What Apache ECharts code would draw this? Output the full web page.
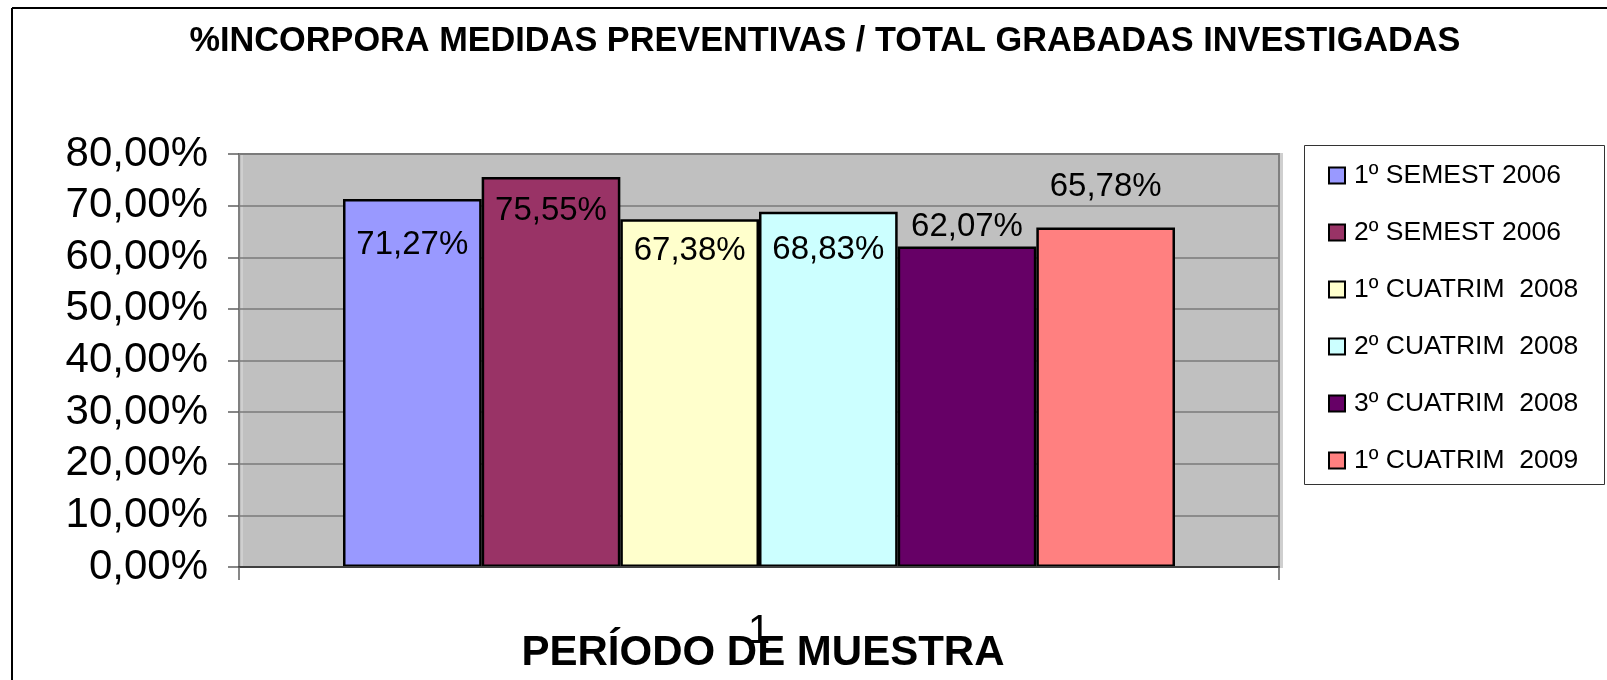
<!DOCTYPE html>
<html>
<head>
<meta charset="utf-8">
<script src="https://cdn.jsdelivr.net/npm/echarts@6/dist/echarts.min.js"></script>
<style>
  html, body { margin: 0; padding: 0; background: #fff; }
  #chart { width: 1607px; height: 680px; }
</style>
</head>
<body>
<div id="chart"></div>
<script>
// ---- data ----
const titleText = '%INCORPORA MEDIDAS PREVENTIVAS / TOTAL GRABADAS INVESTIGADAS';
const xAxisTitle = 'PERÍODO DE MUESTRA';
const categories = ['1'];
const seriesNames = ['1º SEMEST 2006', '2º SEMEST 2006', '1º CUATRIM  2008', '2º CUATRIM  2008', '3º CUATRIM  2008', '1º CUATRIM  2009'];
const values = [71.27, 75.55, 67.38, 68.83, 62.07, 65.78];
const yMin = 0, yMax = 80, yStep = 10;

// ---- style ----
const colors = ['#9999FF', '#993366', '#FFFFCC', '#CCFFFF', '#660066', '#FF8080'];
const labelOffsets = [[0, 67], [0, 55], [0, 53], [0, 60], [0, 2], [0, -19]];
const FONT = "'Liberation Sans', Arial, sans-serif";

const fmt = v => v.toFixed(2).replace('.', ',') + '%';

const series = seriesNames.map((name, i) => ({
  name: name,
  type: 'bar',
  barGap: '0%',
  barCategoryGap: '20%',
  data: [values[i]],
  itemStyle: { color: colors[i], borderColor: '#000', borderWidth: 2.5 },
  label: {
    show: true,
    position: 'top',
    offset: labelOffsets[i],
    formatter: p => fmt(p.value),
    color: '#000',
    fontFamily: FONT,
    fontSize: 33
  }
}));

const chart = echarts.init(document.getElementById('chart'), null, { renderer: 'canvas' });
chart.setOption({
  animation: false,
  backgroundColor: '#fff',
  title: {
    text: titleText,
    left: 820,
    textAlign: 'center',
    top: 20,
    textStyle: { fontFamily: FONT, fontSize: 34.3, fontWeight: 'bold', color: '#000' }
  },
  graphic: [
    { type: 'line', shape: { x1: 12, y1: 8, x2: 1607, y2: 8 }, style: { stroke: '#000', lineWidth: 2 }, z: 0 },
    { type: 'line', shape: { x1: 12, y1: 8, x2: 12, y2: 680 }, style: { stroke: '#000', lineWidth: 2 }, z: 0 },
    { type: 'rect', shape: { x: 1304.5, y: 145.5, width: 300, height: 339 }, style: { fill: '#fff', stroke: '#333', lineWidth: 1 }, z: 0 }
  ],
  legend: {
    orient: 'vertical',
    left: 1328,
    top: 162,
    padding: 0,
    itemWidth: 16,
    itemHeight: 16,
    itemGap: 30,
    icon: 'rect',
    z: 10,
    itemStyle: { borderColor: '#000', borderWidth: 2 },
    textStyle: { fontFamily: FONT, fontSize: 26.5, color: '#000', padding: [0, 0, 0, 4] },
    data: seriesNames
  },
  grid: {
    left: 239, top: 154, right: 328, bottom: 113,
    outerBoundsMode: 'none',
    containLabel: false,
    show: true,
    backgroundColor: '#C0C0C0',
    borderColor: '#808080',
    borderWidth: 2,
    shadowColor: '#cfcfcf',
    shadowOffsetX: 3,
    shadowOffsetY: 0,
    shadowBlur: 0
  },
  xAxis: {
    type: 'category',
    data: categories,
    name: xAxisTitle,
    nameLocation: 'middle',
    nameGap: 65,
    nameMoveOverlap: false,
    nameTextStyle: { fontFamily: FONT, fontSize: 42, fontWeight: 'bold', color: '#000', padding: [0, 0, 0, 8] },
    axisLine: { show: true, lineStyle: { color: '#404040', width: 2 } },
    axisTick: { show: true, length: 13, lineStyle: { color: '#606060', width: 1.5 } },
    axisLabel: { margin: 45, fontFamily: FONT, fontSize: 40, color: '#000' },
    z: 5
  },
  yAxis: {
    type: 'value',
    min: yMin, max: yMax, interval: yStep,
    axisLine: { show: true, lineStyle: { color: '#808080', width: 1.5 } },
    axisTick: { show: true, length: 11, lineStyle: { color: '#606060', width: 1.5 } },
    axisLabel: { margin: 31, fontFamily: FONT, fontSize: 42, color: '#000', formatter: v => fmt(v) },
    splitLine: { show: true, lineStyle: { color: '#7a7a7a', width: 1.5 } }
  },
  series: series
});
</script>
</body>
</html>
